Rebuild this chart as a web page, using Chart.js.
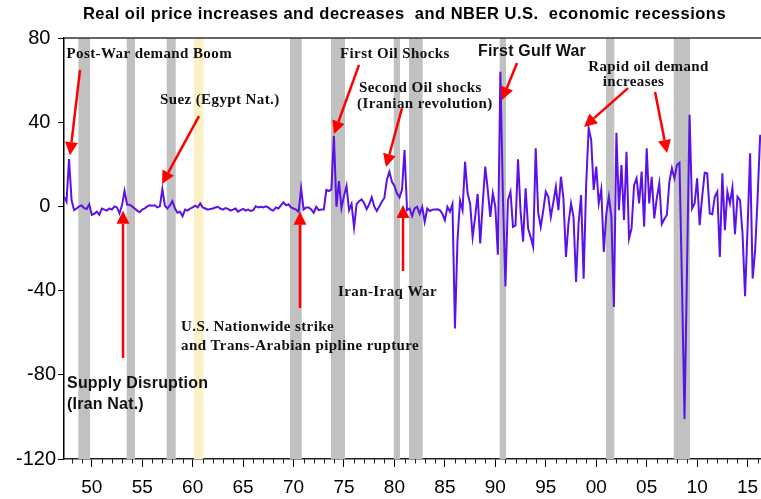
<!DOCTYPE html>
<html lang="en">
<head>
<meta charset="UTF-8">
<title>Real oil price increases and decreases and NBER U.S. economic recessions</title>
<style>
  html, body { margin: 0; padding: 0; background: #fff; }
</style>
</head>
<body>
<canvas id="oilChart" width="761" height="499"></canvas>

<script src="https://cdn.jsdelivr.net/npm/chart.js@4"></script>
<script>
// quarterly real oil price change (%), first quarter = 1947 Q2
const startYear = 1947.25;
const oilChange = [
  4.6, 2.2, 22.5, 3, -1.8, -1, 0, 0.5, -0.8, -1.2,
  1, -4, -3.5, -2.5, -4, -1, -1.5, -2, -1, -1.5,
  0, -0.5, -3.3, 0.5, 7.4, 0.9, 0.8, 0, -1, -2,
  -2.8, -1.5, -1, 0, 0.5, 0.3, 0.5, -0.5, 0, 8.2,
  0.3, -1, 0.5, 2.5, -1, -3, -2.5, -4.6, -1.5, -2,
  -1, -0.5,
  0.3, -0.5, 1.4, -0.5, -1, -1.6, -1.2, -1, -0.5, -0.2,
  -1, -1.5, -0.8, -1.2, -2, -1.5, -1, -2.5, -1.8, -1.2,
  -2, -1.5, -2.2, -1.8, 0.1, -0.5, -0.2, -0.5, 0, -0.5,
  -1.5, -2, -0.5, -1, 0.5, 1.9, 0.5, 1, -0.5, -1,
  -1.5, -2.6, 8.6, -1.5, -0.5, -0.5, -1.5, -3,
  -0.2, -1.8, -1.5, -1.5, 7.8, 7.3, 8.1, 33.5, -0.2, 12,
  -0.8, 5, 9.7, -1.8, 1.1, -10, 1.1, 2.5, 3.3, 1.5,
  -1.3, 1, 4.3, 0, -2.2, 0, 2.2, 4, 12.5, 16.5,
  11.7, 9.7, 6.2, 4.3, 8, 26.8, -1.8, -1, -4.6, -1,
  -0.2, -3.5, -0.2, -7.3, -1, -2.2, -1.6, -1.5, -1.4, -1.8,
  -3.5, -6.5, -0.2, -2.5, 1, -58, -16, 2.7, -1.8, 21.2,
  6.2, 1.4, -14.5, -5, 5.9, -17.6, 1.4, 18.9, 7.8, -5,
  6.2, -0.2, -23, 64, 5, -38, 3, 7, -9.7, -9,
  22.4, -2.3, -16.8, 8.6, -10.5, -14.5, -19.2, 27.6, -3, -9.7,
  -2, 7, 4.6, -5, 2, 9.3, -1.8, 14.1, 3.8, -24,
  -8, 1.4, -5, -35.9, -8.1, 5.4, -34.3, 10, 37.1, 31.6,
  7.8, 18.9, 1.4, 8.1, -21.6, -3.4, 4.6, -5, -47.8, 35,
  -1.8, 19.7, -6.5, 26, -15.2, -10.4, 10.1, 13.3, 1.4, 16.5,
  -9.7, 27.6, 1.4, 14.1, -5.7, 3.8, 10.9, -8.4, -6, -4.1,
  11.7, 18.1, 13.3, 19.7, 20.8, -36.7, -101, -29, 43.5, -1,
  1.4, 13.3, -8.9, 4.6, 16, 15.7, -3.4, -3.7, 4.6, 7,
  -24, 15.7, -11.3, 7, 1.4, 9, -13.2, 4.6, 3, -12.9,
  -42.7, -10, 25.2, -34.3, -20.8, 5, 34
];

// NBER recessions, decimal years
const recStart = [1948.67, 1953.46, 1957.43, 1960.13, 1969.65, 1973.71, 1979.93, 1981.44, 1990.43, 2000.97, 2007.68];
const recEnd   = [1949.83, 1954.29, 1958.32, 1961.06, 1970.81, 1975.10, 1980.55, 1982.80, 1991.06, 2001.79, 2009.29];
const yellowBand = 3; // 1960-61 band is shown in yellow

const yMin = -120, yMax = 80, yStep = 40;
const xMin = 1947.25, xMax = 2016.33;

const titleText = 'Real oil price increases and decreases  and NBER U.S.  economic recessions';

// annotations, in data units (year, value)
const serif = 'bold 15px "Liberation Serif", "Times New Roman", serif';
const sans = 'bold 16px "Liberation Sans", Arial, sans-serif';
const notes = [
  { text: 'Post-War demand Boom', x: 1947.50, y: 72.4, font: serif },
  { text: 'Suez (Egypt Nat.)', x: 1956.76, y: 50.5, font: serif },
  { text: 'First Oil Shocks', x: 1974.60, y: 72.4, font: serif },
  { text: 'Second Oil shocks', x: 1976.49, y: 56.3, font: serif },
  { text: '(Iranian revolution)', x: 1976.29, y: 48.6, font: serif },
  { text: 'First Gulf War', x: 1988.28, y: 73.4, font: sans },
  { text: 'Rapid oil demand', x: 2005.18, y: 66.2, font: serif, align: 'center' },
  { text: 'increases', x: 2003.69, y: 59.1, font: serif, align: 'center' },
  { text: 'Supply Disruption', x: 1947.55, y: -84.4, font: sans },
  { text: '(Iran Nat.)', x: 1947.55, y: -94.3, font: sans },
  { text: 'U.S. Nationwide strike', x: 1958.85, y: -57.3, font: serif },
  { text: 'and Trans-Arabian pipline rupture', x: 1958.85, y: -66.3, font: serif },
  { text: 'Iran-Iraq War', x: 1974.41, y: -40.7, font: serif }
];
// arrows: [fromYear, fromValue, tipYear, tipValue]
const arrows = [
  [1948.84, 64.8, 1947.84, 24.3],
  [1960.63, 42.9, 1956.96, 10.6],
  [1976.49, 67.2, 1974.01, 34.4],
  [1980.75, 46.7, 1979.16, 18.7],
  [1992.15, 68.1, 1990.66, 50.5],
  [2003.15, 56.2, 1998.79, 37.7],
  [2005.83, 54.3, 2007.02, 25.4],
  [1953.10, -72.0, 1953.10, -2.1],
  [1970.64, -48.3, 1970.64, -2.6],
  [1980.85, -30.7, 1980.85, 0.7]
];

const points = oilChange.map((v, i) => ({ x: startYear + i / 4, y: v }));

// grey / yellow recession bands behind the line
const bandsPlugin = {
  id: 'bands',
  beforeDatasetsDraw(chart) {
    const { ctx, chartArea: a, scales: { x } } = chart;
    ctx.save();
    recStart.forEach((s, i) => {
      const x0 = x.getPixelForValue(s);
      const x1 = x.getPixelForValue(recEnd[i]);
      ctx.fillStyle = i === yellowBand ? '#fcf1c4' : '#c1c1c1';
      ctx.fillRect(x0, a.top, x1 - x0, a.bottom - a.top);
    });
    ctx.restore();
  }
};

function drawArrow(ctx, x0, y0, x1, y1) {
  const ang = Math.atan2(y1 - y0, x1 - x0);
  const hl = 13, hw = 6.5;
  const bx = x1 - hl * Math.cos(ang), by = y1 - hl * Math.sin(ang);
  ctx.beginPath();
  ctx.moveTo(x0, y0);
  ctx.lineTo(bx, by);
  ctx.stroke();
  ctx.beginPath();
  ctx.moveTo(x1, y1);
  ctx.lineTo(bx + hw * Math.sin(ang), by - hw * Math.cos(ang));
  ctx.lineTo(bx - hw * Math.sin(ang), by + hw * Math.cos(ang));
  ctx.closePath();
  ctx.fill();
}

// title, text notes, red arrows, minor year ticks and the top frame line
const notesPlugin = {
  id: 'notes',
  afterDatasetsDraw(chart) {
    const { ctx, scales: { x, y } } = chart;
    ctx.save();
    ctx.strokeStyle = '#ff0000';
    ctx.fillStyle = '#ff0000';
    ctx.lineWidth = 2.5;
    arrows.forEach(r => {
      drawArrow(ctx, x.getPixelForValue(r[0]), y.getPixelForValue(r[1]),
                x.getPixelForValue(r[2]), y.getPixelForValue(r[3]));
    });
    ctx.fillStyle = '#111';
    ctx.textBaseline = 'middle';
    notes.forEach(n => {
      ctx.font = n.font;
      ctx.letterSpacing = n.font === serif ? '0.4px' : '0.2px';
      ctx.textAlign = n.align || 'left';
      ctx.fillText(n.text, x.getPixelForValue(n.x), y.getPixelForValue(n.y));
    });
    ctx.restore();
  },
  afterDraw(chart) {
    const { ctx, chartArea: a, scales: { x } } = chart;
    ctx.save();
    ctx.strokeStyle = '#222';
    ctx.lineWidth = 1;
    for (let yr = Math.ceil(xMin); yr <= xMax; yr++) {
      if (yr % 5 === 0) continue;
      const px = Math.round(x.getPixelForValue(yr)) + 0.5;
      ctx.beginPath();
      ctx.moveTo(px, a.bottom);
      ctx.lineTo(px, a.bottom + 4.5);
      ctx.stroke();
    }
    ctx.lineWidth = 1.5;
    ctx.strokeStyle = '#333';
    ctx.beginPath();
    ctx.moveTo(a.left, a.top);
    ctx.lineTo(a.right, a.top);
    ctx.stroke();

    // chart title
    ctx.fillStyle = '#000';
    ctx.font = 'bold 16.5px "Liberation Sans", Arial, sans-serif';
    ctx.letterSpacing = '0.5px';
    ctx.textAlign = 'center';
    ctx.textBaseline = 'middle';
    ctx.fillText(titleText, 404.5, 14);
    ctx.restore();
  }
};

const tickFont = { family: '"Liberation Sans", Arial, sans-serif', size: 19 };

new Chart(document.getElementById('oilChart'), {
  type: 'line',
  data: {
    datasets: [{
      data: points,
      borderColor: '#5b12e6',
      borderWidth: 2,
      pointRadius: 0,
      tension: 0,
      fill: false
    }]
  },
  options: {
    responsive: false,
    animation: false,
    layout: { autoPadding: false, padding: { top: 38, left: 0, right: 0, bottom: 0 } },
    plugins: {
      legend: { display: false },
      tooltip: { enabled: false },
      title: { display: false }
    },
    scales: {
      x: {
        type: 'linear',
        min: xMin,
        max: xMax,
        ticks: {
          stepSize: 1,
          autoSkip: false,
          maxRotation: 0,
          includeBounds: false,
          padding: 9,
          color: '#000',
          font: tickFont,
          callback: v => v % 5 === 0 ? String(v % 100).padStart(2, '0') : ''
        },
        grid: {
          drawOnChartArea: false,
          tickLength: 8,
          tickWidth: 1,
          tickColor: c => (c.tick && c.tick.value % 5 === 0) ? '#000' : 'rgba(0,0,0,0)'
        },
        border: { color: '#222', width: 1.5 },
        afterFit: s => { s.height = 40; s.paddingLeft = 0; s.paddingRight = 0; }
      },
      y: {
        min: yMin,
        max: yMax,
        ticks: {
          stepSize: yStep,
          padding: 2,
          color: '#000',
          font: { family: '"Liberation Sans", Arial, sans-serif', size: 20 },
          callback: v => v < 0 ? String(v) : v + ' '
        },
        grid: { drawOnChartArea: false, tickLength: 6, color: '#000' },
        border: { color: '#000', width: 1.5 },
        afterFit: s => { s.width = 64; }
      }
    }
  },
  plugins: [bandsPlugin, notesPlugin]
});
</script>
</body>
</html>
